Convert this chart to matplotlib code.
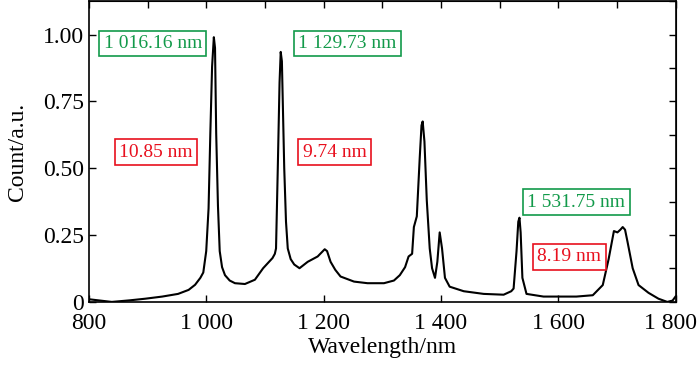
import matplotlib
matplotlib.use('Agg')
import matplotlib.pyplot as plt
import matplotlib.transforms as mtransforms
from matplotlib.ticker import MultipleLocator

plt.rcParams['font.family'] = ['Liberation Serif', 'DejaVu Serif']

# spectrum (wavelength in nm, normalised count)
wavelength = [800, 839, 870, 896, 925, 952, 970, 981, 990, 995, 1000, 1004, 1007, 1010,
              1013, 1015, 1017, 1020, 1023, 1027, 1032, 1040, 1049, 1066, 1083, 1097,
              1105, 1113, 1117, 1119, 1122, 1125, 1127, 1129, 1133, 1136, 1139, 1144,
              1150, 1159, 1173, 1190, 1202, 1206, 1212, 1220, 1229, 1252, 1275, 1303,
              1320, 1330, 1339, 1345, 1351, 1354, 1359, 1364, 1367, 1369, 1372, 1376,
              1381, 1385, 1390, 1394, 1398, 1402, 1407, 1415, 1439, 1473, 1507, 1520,
              1524, 1529, 1532, 1534, 1536, 1539, 1546, 1575, 1631, 1659, 1676, 1686,
              1695, 1701, 1706, 1710, 1714, 1718, 1727, 1737, 1754, 1771, 1786, 1795,
              1800]
count = [0.01, 0.0, 0.006, 0.012, 0.02, 0.03, 0.045, 0.064, 0.09, 0.11, 0.19, 0.35, 0.63, 0.88,
         0.99, 0.95, 0.63, 0.36, 0.19, 0.13, 0.10, 0.08, 0.07, 0.067, 0.083, 0.126,
         0.145, 0.164, 0.18, 0.2, 0.5, 0.82, 0.935, 0.9, 0.5, 0.3, 0.2, 0.16,
         0.14, 0.126, 0.15, 0.17, 0.197, 0.19, 0.15, 0.12, 0.095, 0.076, 0.07, 0.07,
         0.08, 0.1, 0.13, 0.17, 0.18, 0.28, 0.32, 0.54, 0.66, 0.675, 0.6, 0.38,
         0.2, 0.126, 0.09, 0.15, 0.26, 0.2, 0.09, 0.057, 0.04, 0.03, 0.027, 0.04,
         0.05, 0.19, 0.3, 0.315, 0.26, 0.09, 0.03, 0.02, 0.02, 0.025, 0.063, 0.16,
         0.265, 0.26, 0.27, 0.28, 0.27, 0.227, 0.126, 0.063, 0.034, 0.012, 0.0, 0.005,
         0.02]

# peak positions (green) and FWHM (red) boxes
peak_labels = ['1 016.16 nm', '1 129.73 nm', '1 531.75 nm']
peak_pos = [(909, 0.966), (1241, 0.966), (1631, 0.373)]
fwhm_labels = ['10.85 nm', '9.74 nm', '8.19 nm']
fwhm_pos = [(914, 0.56), (1219, 0.56), (1619, 0.168)]

xticks = [800, 1000, 1200, 1400, 1600, 1800]
xticklabels = ['800', '1 000', '1 200', '1 400', '1 600', '1 800']
yticks = [0, 0.25, 0.5, 0.75, 1.0]
yticklabels = ['0', '0.25', '0.50', '0.75', '1.00']

fig = plt.figure(figsize=(7, 3.7), dpi=100)
ax = fig.add_axes([0.127, 0.184, 0.838, 0.813])

ax.plot(wavelength, count, color='black', lw=1.5)

green = '#129a4a'
red = '#e8101e'
for lab, (x, y) in zip(peak_labels, peak_pos):
    ax.text(x, y, lab, color=green, fontsize=14, ha='center', va='center',
            bbox=dict(boxstyle='square,pad=0.22', fc='white', ec=green, lw=1.2))
for lab, (x, y) in zip(fwhm_labels, fwhm_pos):
    ax.text(x, y, lab, color=red, fontsize=14, ha='center', va='center',
            bbox=dict(boxstyle='square,pad=0.22', fc='white', ec=red, lw=1.2))

ax.set_xlim(800, 1800)
ax.set_ylim(0, 1.125)
ax.set_xticks(xticks)
ax.set_xticklabels(xticklabels)
ax.set_yticks(yticks)
ax.set_yticklabels(yticklabels)
ax.tick_params(direction='in', labelsize=17, length=5, width=1)
ax.tick_params(axis='x', pad=8)
# the last label sits a little left of its tick in the original
last = ax.get_xticklabels()[-1]
last.set_transform(last.get_transform() +
                   mtransforms.ScaledTranslation(-5 / 100, 0, fig.dpi_scale_trans))

# ticks on top and right
top = ax.secondary_xaxis('top')
top.xaxis.set_major_locator(MultipleLocator(100))
top.tick_params(direction='in', labeltop=False, length=5, width=1)
right = ax.secondary_yaxis('right')
right.yaxis.set_major_locator(MultipleLocator(0.125))
right.tick_params(direction='in', labelright=False, length=5, width=1)

ax.set_xlabel('Wavelength/nm', fontsize=17, labelpad=2)
ax.set_ylabel('Count/a.u.', fontsize=17, labelpad=11)
for s in ax.spines.values():
    s.set_linewidth(1.2)

fig.savefig('out.png', dpi=100)
